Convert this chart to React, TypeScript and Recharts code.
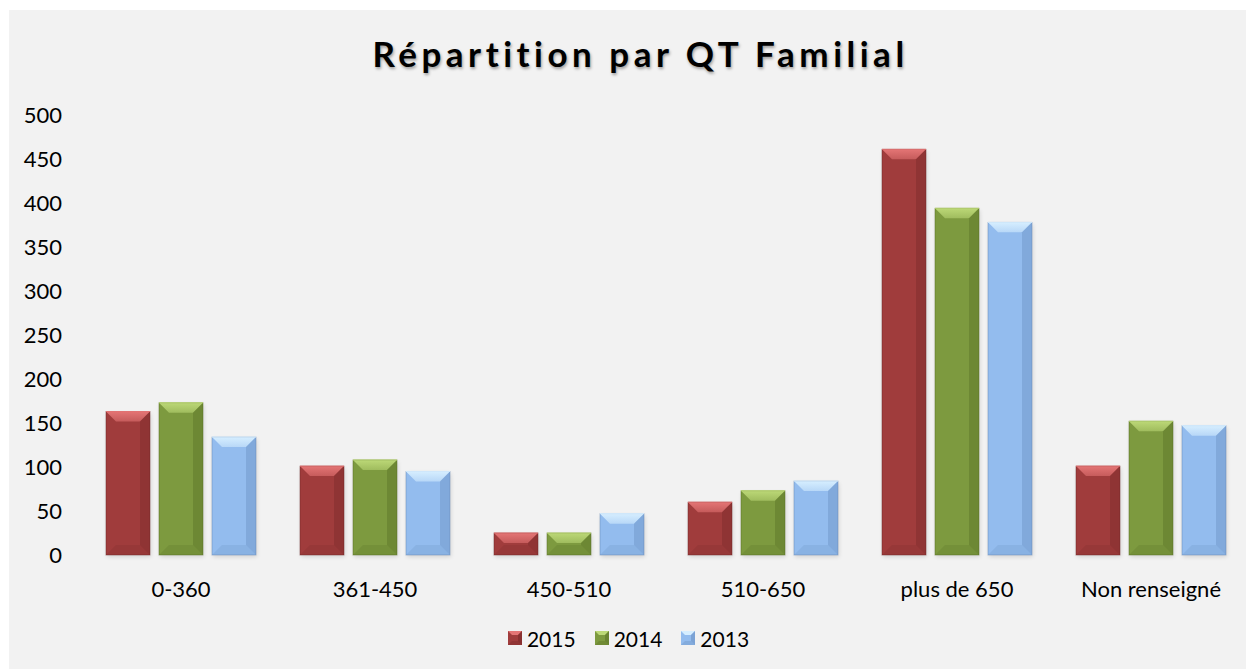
import { BarChart, Bar, XAxis, YAxis, Legend } from "recharts";

const categories = ["0-360", "361-450", "450-510", "510-650", "plus de 650", "Non renseigné"];
const v2015 = [163, 101, 25, 60, 461, 101];
const v2014 = [173, 108, 25, 73, 394, 152];
const v2013 = [134, 95, 47, 84, 378, 147];
const yTicks = [0, 50, 100, 150, 200, 250, 300, 350, 400, 450, 500];

const data = categories.map((c, i) => ({ cat: c, y2015: v2015[i], y2014: v2014[i], y2013: v2013[i] }));

const FONT = "Lato, 'Open Sans', sans-serif";

// base, light (top bevel), dark (right/bottom bevel), border
const PAL: Record<string, [string, string, string, string]> = {
  y2015: ["#a03c3c", "#e47575", "#7a2a2a", "#6e2626"],
  y2014: ["#7d9a3f", "#bcd877", "#5c7428", "#566c25"],
  y2013: ["#93bcee", "#d6eeff", "#6d93c4", "#6688b5"],
};

const series = [
  { key: "y2015", name: "2015" },
  { key: "y2014", name: "2014" },
  { key: "y2013", name: "2013" },
];

function BevelBar(props: any) {
  const { x, y, width: w, height: h, dataKey } = props;
  if (!h || h <= 0) return null;
  const [base, light, dark, border] = PAL[dataKey];
  const b = Math.min(10, h / 2, w / 2);
  return (
    <g>
      <rect x={x + 1} y={y + 2} width={w} height={h} fill="#000" opacity={0.12} filter="url(#soft)" />
      <rect x={x} y={y} width={w} height={h} fill={base} />
      <polygon points={`${x},${y} ${x + w},${y} ${x + w - b},${y + b} ${x + b},${y + b}`} fill={`url(#top-${dataKey})`} />
      <polygon points={`${x + w},${y} ${x + w},${y + h} ${x + w - b},${y + h - b} ${x + w - b},${y + b}`} fill={dark} opacity={0.45} />
      <polygon points={`${x},${y + h} ${x + w},${y + h} ${x + w - b},${y + h - b} ${x + b},${y + h - b}`} fill={dark} opacity={0.25} />
      <rect x={x} y={y} width={w} height={h} fill="none" stroke={border} strokeWidth={0.8} opacity={0.6} />
      <line x1={x} y1={y} x2={x + w} y2={y} stroke={light} strokeWidth={1} />
    </g>
  );
}

function LegendBox({ k }: { k: string }) {
  const [base, light, dark] = PAL[k];
  const s = 14;
  const b = 4;
  return (
    <svg width={s} height={s} style={{ display: "block" }}>
      <rect x={0} y={0} width={s} height={s} fill={base} />
      <polygon points={`0,0 ${s},0 ${s - b},${b} ${b},${b}`} fill={light} />
      <polygon points={`${s},0 ${s},${s} ${s - b},${s - b} ${s - b},${b}`} fill={dark} opacity={0.6} />
      <polygon points={`0,${s} ${s},${s} ${s - b},${s - b} ${b},${s - b}`} fill={dark} opacity={0.4} />
    </svg>
  );
}

function LegendContent() {
  return (
    <div style={{ display: "flex", justifyContent: "center", alignItems: "center", gap: 19, fontFamily: FONT, fontSize: 21, color: "#000", height: 24 }}>
      {series.map((s) => (
        <div key={s.key} style={{ display: "flex", alignItems: "center", gap: 5 }}>
          <LegendBox k={s.key} />
          <span>{s.name}</span>
        </div>
      ))}
    </div>
  );
}

export default function App() {
  return (
    <div style={{ position: "relative", left: 1, top: 2, width: 1245, height: 661, background: "#f2f2f2" }}>
      <div
        style={{
          position: "absolute",
          top: 22,
          left: 0,
          width: "100%",
          boxSizing: "border-box",
          paddingLeft: 18,
          textAlign: "center",
          fontFamily: FONT,
          fontWeight: 700,
          fontSize: 35,
          letterSpacing: 4.5,
          color: "#000",
          textShadow: "1px 2px 3px rgba(0,0,0,0.35)",
        }}
      >
        Répartition par QT Familial
      </div>
      <BarChart
        width={1245}
        height={661}
        data={data}
        margin={{ top: 105, right: 6, left: 0, bottom: 21 }}
        barSize={44}
        barGap={9}
      >
        <defs>
          <filter id="soft" x="-20%" y="-20%" width="140%" height="140%">
            <feGaussianBlur stdDeviation="2" />
          </filter>
          {series.map((s) => (
            <linearGradient key={s.key} id={`top-${s.key}`} x1="0" y1="0" x2="0" y2="1">
              <stop offset="0%" stopColor={PAL[s.key][1]} />
              <stop offset="100%" stopColor={PAL[s.key][1]} stopOpacity={0.55} />
            </linearGradient>
          ))}
        </defs>
        <XAxis
          dataKey="cat"
          axisLine={false}
          tickLine={false}
          tickSize={0}
          tickMargin={26}
          height={71}
          interval={0}
          tick={{ fill: "#000", fontSize: 22, fontFamily: FONT }}
        />
        <YAxis
          domain={[0, 500]}
          ticks={yTicks}
          width={75}
          axisLine={false}
          tickLine={false}
          tickSize={0}
          tickMargin={22}
          interval={0}
          tick={{ fill: "#000", fontSize: 22, fontFamily: FONT }}
        />
        <Legend verticalAlign="bottom" height={24} content={<LegendContent />} />
        {series.map((s) => (
          <Bar key={s.key} dataKey={s.key} name={s.name} shape={<BevelBar />} isAnimationActive={false} />
        ))}
      </BarChart>
    </div>
  );
}
